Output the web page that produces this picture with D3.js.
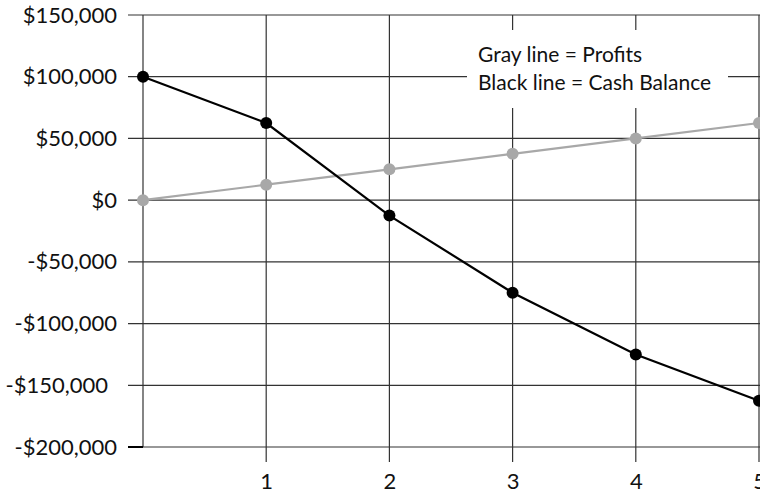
<!DOCTYPE html>
<html>
<head>
<meta charset="utf-8">
<script src="https://cdn.jsdelivr.net/npm/d3@7.9.0/dist/d3.min.js"></script>
<style>
  body { margin: 0; background: #fff; }
  svg { display: block; font-family: Lato, "Open Sans", sans-serif; }
</style>
</head>
<body>
<svg width="760" height="497"></svg>
<script>
const years       = [0, 1, 2, 3, 4, 5];
const cashBalance = [100000, 62500, -12500, -75000, -125000, -162500];
const profits     = [0, 12500, 25000, 37500, 50000, 62500];
const yTicks      = [150000, 100000, 50000, 0, -50000, -100000, -150000, -200000];
const xTickLabels = ['1', '2', '3', '4', '5'];
const legendLines = ['Gray line = Profits', 'Black line = Cash Balance'];

const svg = d3.select('svg');
const x = d3.scaleLinear().domain([0, 5]).range([143, 759]);
const y = d3.scaleLinear().domain([-200000, 150000]).range([447, 15]);

const fmt = v => (v < 0 ? '-$' : '$') + d3.format(',')(Math.abs(v));

// horizontal grid + left ticks
svg.append('g')
  .selectAll('line')
  .data(yTicks)
  .join('line')
    .attr('x1', 128).attr('x2', 760)
    .attr('y1', d => y(d)).attr('y2', d => y(d))
    .attr('stroke', '#333').attr('stroke-width', 1.2);

// vertical grid, extend below for ticks (except the axis itself)
svg.append('g')
  .selectAll('line')
  .data(years)
  .join('line')
    .attr('x1', d => x(d)).attr('x2', d => x(d))
    .attr('y1', 15).attr('y2', d => d === 0 ? 447 : 462)
    .attr('stroke', '#333').attr('stroke-width', 1.2);

// thicker bottom-left tick
svg.append('line')
  .attr('x1', 128).attr('x2', 143).attr('y1', y(-200000)).attr('y2', y(-200000))
  .attr('stroke', '#000').attr('stroke-width', 2);

// y labels via axis
const yAxis = svg.append('g')
  .attr('transform', 'translate(143,0)')
  .call(d3.axisLeft(y).tickValues(yTicks).tickFormat(fmt).tickSize(0).tickPadding(26));
yAxis.select('.domain').remove();
yAxis.attr('font-size', null).attr('font-family', null);
yAxis.selectAll('text')
  .style('font-size', '22px').attr('fill', '#111')
  .attr('dx', d => d === -150000 ? -9 : 0);

// x labels via axis
const xAxis = svg.append('g')
  .attr('transform', 'translate(0,462)')
  .call(d3.axisBottom(x).tickValues([1, 2, 3, 4, 5])
    .tickFormat((d, i) => xTickLabels[i]).tickSize(0).tickPadding(11));
xAxis.select('.domain').remove();
xAxis.attr('font-size', null).attr('font-family', null);
xAxis.selectAll('text').style('font-size', '22px').attr('fill', '#111');

// legend box
svg.append('rect')
  .attr('x', 467).attr('y', 30).attr('width', 261).attr('height', 78)
  .attr('fill', '#fff');
svg.append('g')
  .selectAll('text')
  .data(legendLines)
  .join('text')
    .attr('x', 478).attr('y', (d, i) => 62 + i * 28)
    .style('font-size', '21px').attr('fill', '#111')
    .text(d => d);

const line = d3.line().x((d, i) => x(years[i])).y(d => y(d));

function series(values, color) {
  svg.append('path')
    .datum(values)
    .attr('d', line)
    .attr('fill', 'none').attr('stroke', color).attr('stroke-width', 2.2);
  svg.append('g')
    .selectAll('circle')
    .data(values)
    .join('circle')
      .attr('cx', (d, i) => x(years[i])).attr('cy', d => y(d))
      .attr('r', 6).attr('fill', color);
}

series(profits, '#a8a8a8');
series(cashBalance, '#000');
</script>
</body>
</html>
